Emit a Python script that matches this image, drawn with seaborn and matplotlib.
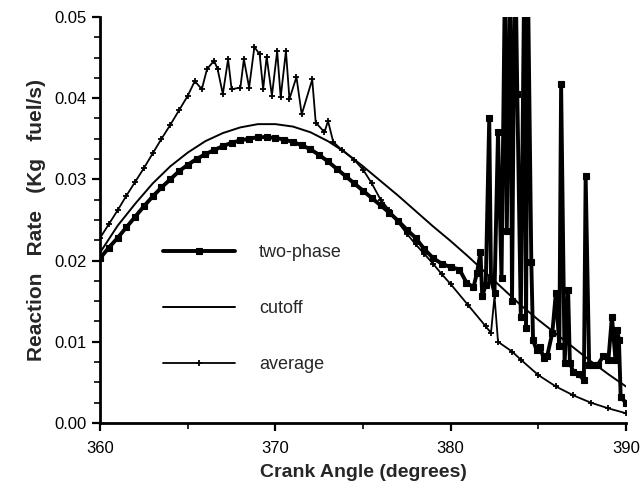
import matplotlib
matplotlib.use("Agg")
import matplotlib.pyplot as plt
import seaborn as sns

# two-phase model (square markers), spiky after ~380 deg
tp_angle = [360.0, 360.5, 361.0, 361.5, 362.0, 362.5, 363.0, 363.5, 364.0, 364.5,
            365.0, 365.5, 366.0, 366.5, 367.0, 367.5, 368.0, 368.5, 369.0, 369.5,
            370.0, 370.5, 371.0, 371.5, 372.0, 372.5, 373.0, 373.5, 374.0, 374.5,
            375.0, 375.5, 376.0, 376.5, 377.0, 377.5, 378.0, 378.5, 379.0, 379.5,
            380.0, 380.5, 380.9, 381.3, 381.5, 381.7, 381.8, 382.0, 382.2, 382.3,
            382.5, 382.7, 382.9, 383.1, 383.2, 383.4, 383.5, 383.6, 383.7, 383.8,
            384.0, 384.2, 384.3, 384.4, 384.6, 384.7, 384.9, 385.1, 385.3, 385.5,
            385.8, 386.0, 386.2, 386.3, 386.5, 386.7, 386.8, 387.0, 387.3, 387.6,
            387.7, 387.9, 388.2, 388.4, 388.7, 389.0, 389.2, 389.4, 389.5, 389.6,
            389.7, 390.0]
tp_rate = [0.0203, 0.0216, 0.0228, 0.0241, 0.0254, 0.0267, 0.0279, 0.0290, 0.0300, 0.0310,
           0.0318, 0.0325, 0.0331, 0.0336, 0.0341, 0.0345, 0.0348, 0.0350, 0.0352, 0.0352,
           0.0351, 0.0349, 0.0346, 0.0342, 0.0337, 0.0330, 0.0322, 0.0313, 0.0304, 0.0295,
           0.0286, 0.0277, 0.0268, 0.0259, 0.0249, 0.0238, 0.0228, 0.0214, 0.0203, 0.0196,
           0.0192, 0.0189, 0.0173, 0.0167, 0.0185, 0.0210, 0.0156, 0.0170, 0.0376, 0.0177,
           0.0160, 0.0358, 0.0179, 0.0560, 0.0236, 0.0560, 0.0150, 0.0426, 0.0560, 0.0405,
           0.0131, 0.0560, 0.0117, 0.0560, 0.0198, 0.0102, 0.0090, 0.0094, 0.0080, 0.0082,
           0.0111, 0.0160, 0.0095, 0.0417, 0.0074, 0.0164, 0.0074, 0.0063, 0.0060, 0.0053,
           0.0304, 0.0072, 0.0072, 0.0072, 0.0082, 0.0078, 0.0131, 0.0078, 0.0115, 0.0102,
           0.0032, 0.0025]

# cutoff model (plain line)
co_angle = [360, 361, 362, 363, 364, 365, 366, 367, 368, 369, 370, 371, 372, 373, 374, 375,
            376, 377, 378, 379, 380, 381, 382, 383, 384, 385, 386, 387, 388, 389, 390]
co_rate = [0.0210, 0.0243, 0.0270, 0.0295, 0.0316, 0.0333, 0.0347, 0.0357, 0.0364, 0.0368,
           0.0368, 0.0365, 0.0358, 0.0347, 0.0333, 0.0316, 0.0298, 0.0280, 0.0261, 0.0242,
           0.0224, 0.0205, 0.0185, 0.0165, 0.0145, 0.0127, 0.0110, 0.0093, 0.0076, 0.0060,
           0.0045]

# average model (+ markers)
av_angle = [360.0, 360.5, 361.0, 361.5, 362.0, 362.5, 363.0, 363.5, 364.0, 364.5,
            365.0, 365.4, 365.8, 366.1, 366.5, 366.7, 367.0, 367.3, 367.5, 368.0,
            368.2, 368.5, 368.8, 369.1, 369.3, 369.5, 369.8, 370.1, 370.3, 370.6,
            370.8, 371.2, 371.5, 372.1, 372.3, 372.8, 373.0, 373.3, 373.8, 374.5,
            375.0, 375.5, 376.0, 376.5, 377.0, 377.5, 378.0, 378.5, 379.0, 379.5,
            380.0, 381.0, 382.0, 382.3, 382.5, 382.7, 383.5, 384.0, 385.0, 386.0,
            387.0, 388.0, 389.0, 390.0]
av_rate = [0.0228, 0.0245, 0.0262, 0.0280, 0.0297, 0.0314, 0.0332, 0.0350, 0.0367, 0.0385,
           0.0403, 0.0421, 0.0411, 0.0436, 0.0446, 0.0436, 0.0405, 0.0448, 0.0411, 0.0413,
           0.0448, 0.0413, 0.0463, 0.0454, 0.0411, 0.0451, 0.0403, 0.0458, 0.0401, 0.0458,
           0.0399, 0.0426, 0.0380, 0.0423, 0.0370, 0.0358, 0.0372, 0.0346, 0.0336, 0.0324,
           0.0312, 0.0295, 0.0275, 0.0262, 0.0247, 0.0233, 0.0220, 0.0208, 0.0196, 0.0183,
           0.0171, 0.0145, 0.0119, 0.0111, 0.0156, 0.0100, 0.0088, 0.0078, 0.0059, 0.0045,
           0.0034, 0.0025, 0.0018, 0.0012]

x_ticks = [360, 370, 380, 390]
y_ticks = [0.00, 0.01, 0.02, 0.03, 0.04, 0.05]

sns.set_style("ticks")
plt.rcParams["font.family"] = ["Liberation Sans", "DejaVu Sans"]

fig = plt.figure(figsize=(6.42, 4.91), dpi=100)
ax = fig.add_axes([0.156, 0.1385, 0.819, 0.827])

sns.lineplot(x=tp_angle, y=tp_rate, ax=ax, color="black", linewidth=2.8, linestyle="-",
             marker="s", markersize=4, markeredgecolor="black", markeredgewidth=0.8,
             sort=False, estimator=None, label="two-phase")
sns.lineplot(x=co_angle, y=co_rate, ax=ax, color="black", linewidth=1.4, linestyle="-",
             sort=False, estimator=None, label="cutoff")
sns.lineplot(x=av_angle, y=av_rate, ax=ax, color="black", linewidth=1.3, linestyle="-",
             marker="+", markersize=4, markeredgecolor="black", markeredgewidth=1.3,
             sort=False, estimator=None, label="average")

ax.set_xlim(360, 390)
ax.set_ylim(0, 0.05)
ax.set_xticks(x_ticks)
ax.set_xticks([365, 375, 385], minor=True)
ax.set_yticks(y_ticks)
ax.set_yticks([v / 10000 for v in range(0, 501, 25)], minor=True)
ax.set_yticklabels([f"{v:.2f}" for v in y_ticks])
ax.tick_params(axis="both", which="major", direction="out", length=6, width=1.6,
               labelsize=12, colors="black")
ax.tick_params(axis="both", which="minor", direction="out", length=4, width=1.4)
ax.tick_params(axis="x", pad=7)
for side in ["top", "right"]:
    ax.spines[side].set_visible(False)
for side in ["left", "bottom"]:
    ax.spines[side].set_linewidth(2)
    ax.spines[side].set_color("black")

ax.set_xlabel("Crank Angle (degrees)", fontsize=14, fontweight="bold", labelpad=6)
ax.set_ylabel("Reaction   Rate   (Kg   fuel/s)", fontsize=15, fontweight="bold",
              labelpad=6)

ax.legend(loc="upper left", bbox_to_anchor=(0.12, 0.44), frameon=False, fontsize=13,
          handlelength=4.0, handletextpad=1.3, labelspacing=2.15, numpoints=1,
          borderpad=0, borderaxespad=0)

fig.savefig("out.png", dpi=100)
